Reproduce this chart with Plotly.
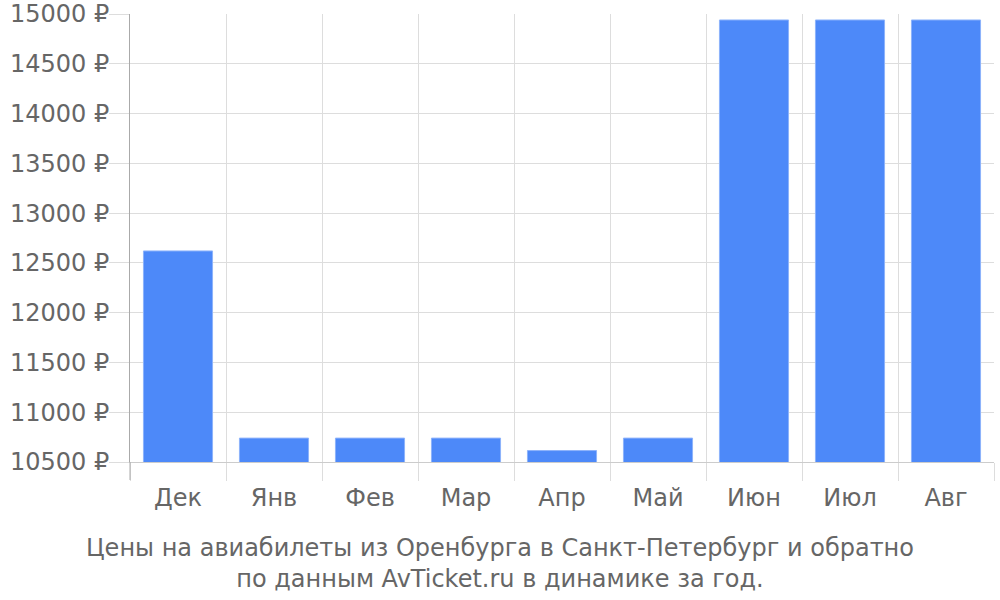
import plotly.graph_objects as go

months = ["Дек", "Янв", "Фев", "Мар", "Апр", "Май", "Июн", "Июл", "Авг"]
prices = [12620, 10740, 10740, 10740, 10615, 10740, 14940, 14940, 14940]
y_ticks = [10500, 11000, 11500, 12000, 12500, 13000, 13500, 14000, 14500, 15000]
y_labels = [f"{v} ₽" for v in y_ticks]
title_text = "Цены на авиабилеты из Оренбурга в Санкт-Петербург и обратно<br>по данным AvTicket.ru в динамике за год."

fig = go.Figure(go.Bar(
    x=months, y=prices,
    marker=dict(color="#4D89F9", line=dict(color="#8DB3FB", width=1)),
))

grid = "#DDDDDD"
fs = 24
fig.update_layout(
    width=1000, height=600,
    margin=dict(l=130, r=6, t=14, b=138, autoexpand=False),
    paper_bgcolor="white", plot_bgcolor="white",
    bargap=0.28,
    showlegend=False,
    font=dict(family="DejaVu Sans", color="#666666", size=fs),
    title=dict(text=title_text, x=0.5, xref="container", xanchor="center",
               y=1 - 556 / 600, yref="container", yanchor="middle",
               font=dict(family="DejaVu Sans", size=fs, color="#666666")),
    xaxis=dict(
        tickson="boundaries", showgrid=True, gridcolor=grid, gridwidth=1,
        ticks="outside", ticklen=18, tickcolor=grid, tickwidth=1,
        showline=True, linecolor="#CCCCCC", linewidth=1, automargin=False,
        ticklabelstandoff=14,
        tickfont=dict(size=fs, color="#666666"),
    ),
    yaxis=dict(
        range=[10500, 15000], tickvals=y_ticks, ticktext=y_labels,
        showgrid=True, gridcolor=grid, gridwidth=1,
        ticks="outside", ticklen=20, tickcolor=grid, tickwidth=1,
        showline=True, linecolor="#AAAAAA", linewidth=1, automargin=False,
        zeroline=False, ticklabelstandoff=-5, ticklabeloverflow="allow",
        tickfont=dict(size=fs, color="#666666"),
    ),
)
fig.add_shape(type="line", xref="paper", yref="paper", x0=0, x1=0, y0=0, y1=-18/448,
              line=dict(color="#AAAAAA", width=1))

fig.write_html("out.html", config={"displayModeBar": False},
               post_script="document.body.style.margin='0px';document.body.style.overflow='hidden';")
